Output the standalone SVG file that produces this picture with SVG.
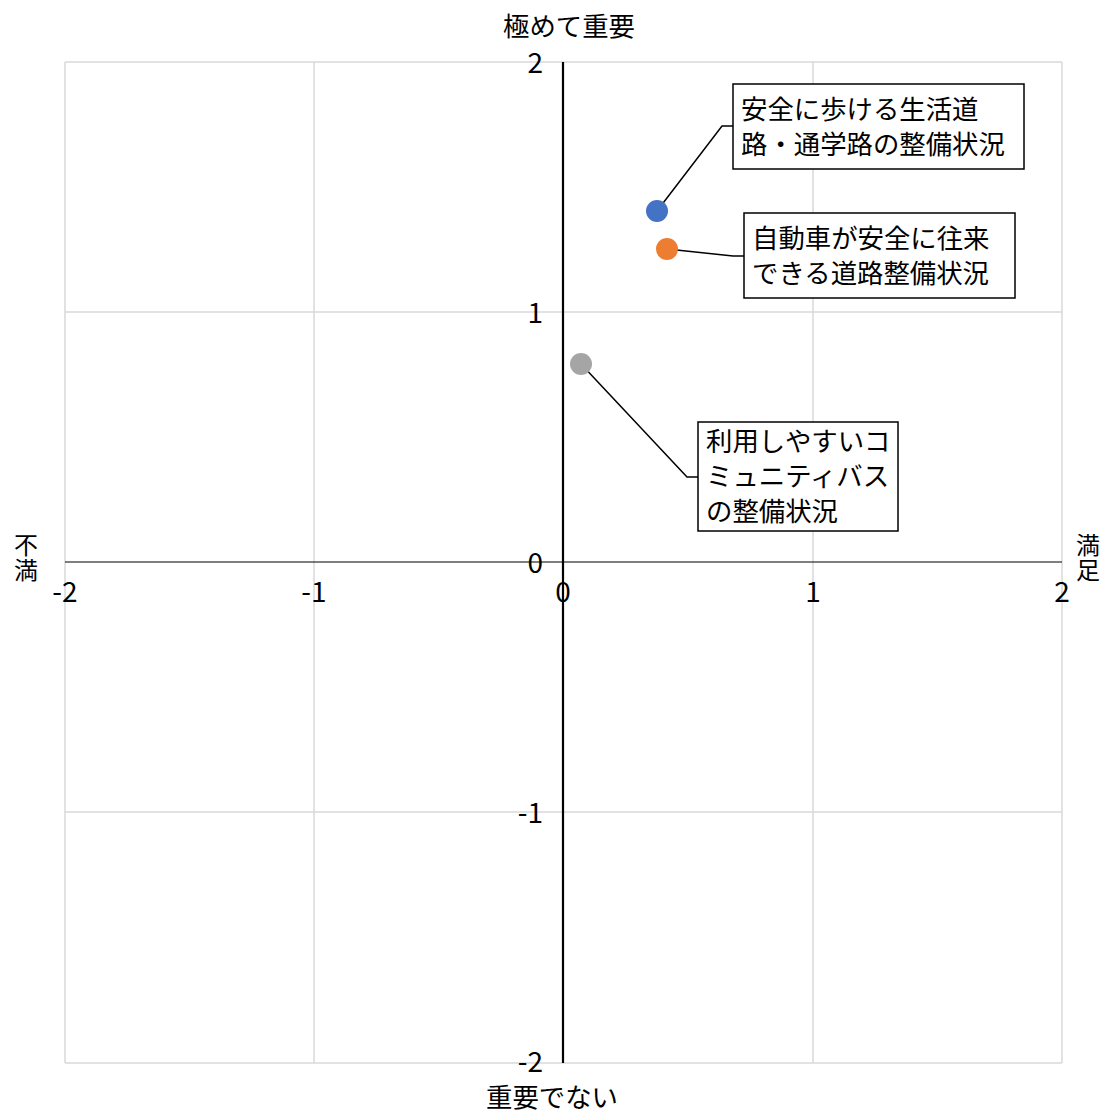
<svg xmlns="http://www.w3.org/2000/svg" width="1104" height="1113" viewBox="0 0 1104 1113">
<style>
text{font-family:"Noto Sans CJK JP","Noto Sans",sans-serif;fill:#000;font-size:26.4px}
.grid{stroke:#d9d9d9;stroke-width:1.5;fill:none}
.tick{font-size:28px}
.side{font-size:24px;writing-mode:vertical-rl;letter-spacing:1px}
.lbl{fill:#fff;stroke:#000;stroke-width:1.5}
.lead{stroke:#000;stroke-width:1.5;fill:none}
</style>
<rect width="1104" height="1113" fill="#fff"/>
<g id="grid">
<path class="grid" d="M65 62V1063M314 62V1063M813 62V1063M1062 62V1063M65 62H1062M65 312H1062M65 812H1062M65 1063H1062"/>
</g>
<g id="axes">
<line x1="65" y1="562" x2="1062" y2="562" stroke="#000" stroke-width="1.2"/>
<line x1="563" y1="62" x2="563" y2="1063" stroke="#000" stroke-width="2.2"/>
<g text-anchor="middle">
<text x="65" y="602" class="tick">-2</text>
<text x="314" y="602" class="tick">-1</text>
<text x="563" y="602" class="tick">0</text>
<text x="813" y="602" class="tick">1</text>
<text x="1062" y="602" class="tick">2</text>
</g>
<g text-anchor="end">
<text x="543" y="73" class="tick">2</text>
<text x="543" y="323" class="tick">1</text>
<text x="543" y="573" class="tick">0</text>
<text x="543" y="823" class="tick">-1</text>
<text x="543" y="1072" class="tick">-2</text>
</g>
<text x="569" y="36" text-anchor="middle">極めて重要</text>
<text x="552" y="1107" text-anchor="middle">重要でない</text>
<text x="26" y="533" class="side">不満</text>
<text x="1088" y="533" class="side">満足</text>
</g>
<g id="connectors">
<polyline class="lead" points="657,211 722,126 733,126"/>
<polyline class="lead" points="667,249 733,256 744,256"/>
<polyline class="lead" points="581,364 687,477 698,477"/>
</g>
<g id="p1">
<circle cx="657" cy="211" r="11" fill="#4472c4"/>
<rect class="lbl" x="733" y="84" width="291" height="85"/>
<text x="741" y="119">安全に歩ける生活道<tspan x="741" dy="35">路・通学路の整備状況</tspan></text>
</g>
<g id="p2">
<circle cx="667" cy="249" r="11" fill="#ed7d31"/>
<rect class="lbl" x="744" y="213" width="271" height="85"/>
<text x="752" y="248">自動車が安全に往来<tspan x="752" dy="35">できる道路整備状況</tspan></text>
</g>
<g id="p3">
<circle cx="581" cy="364" r="11" fill="#a5a5a5"/>
<rect class="lbl" x="698" y="422" width="200" height="109"/>
<text x="706" y="451">利用しやすいコ<tspan x="706" dy="35">ミュニティバス</tspan><tspan x="706" dy="35">の整備状況</tspan></text>
</g>
</svg>
